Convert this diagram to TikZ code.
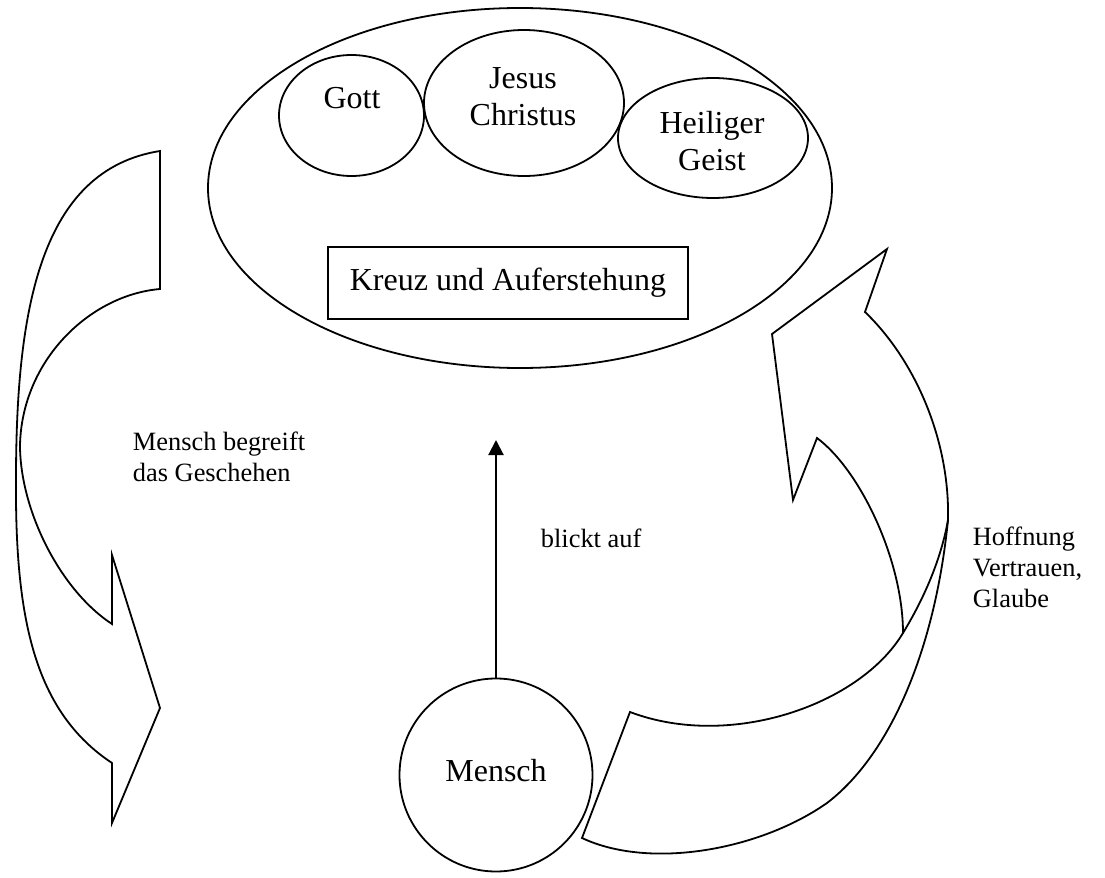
\documentclass[tikz,border=0pt]{standalone}
\usepackage{fontspec}
\setmainfont{Liberation Serif}
\usetikzlibrary{shapes.geometric,arrows.meta}
\begin{document}
\begin{tikzpicture}[x=0.5pt,y=-0.5pt,
  line width=0.9pt,
  bigtxt/.style={font=\fontsize{16}{18.5}\selectfont, align=center, inner sep=0pt},
  smalltxt/.style={font=\fontsize{13.2}{15.5}\selectfont, align=left, inner sep=0pt, anchor=west},
  oval/.style={draw, ellipse, inner sep=0pt},
  band/.style={draw, line join=miter}]
\useasboundingbox (0,0) rectangle (1105,878);

% big ellipse
\node[oval, minimum width=312pt, minimum height=180pt] (god) at (520,188) {};
% trinity
\node[oval, minimum width=72.5pt, minimum height=60.5pt] (gott) at (351.5,115.5) {};
\node[bigtxt] (gottT) at (352,98) {Gott};
\node[oval, minimum width=100pt, minimum height=73pt] (jesus) at (524,103) {};
\node[bigtxt] (jesusT) at (523,97) {Jesus\\Christus};
\node[oval, minimum width=95pt, minimum height=60pt] (geist) at (713,138) {};
\node[bigtxt] (geistT) at (712,141.5) {Heiliger\\Geist};
% cross box
\node[draw, rectangle, inner sep=0pt, minimum width=180pt, minimum height=36pt,
      font=\fontsize{16}{18.5}\selectfont] (kreuz) at (508,283) {Kreuz und Auferstehung};
% Mensch
\node[draw, circle, inner sep=0pt, minimum size=96.5pt] (mensch) at (496,775) {};
\node[bigtxt] (menschT) at (496,771) {Mensch};
% look arrow
\coordinate (blick) at (496,440);
\draw[line width=1pt, -{Triangle[width=7.5pt,length=7.5pt]}] (mensch.north) -- (blick);
\node[smalltxt] (blickT) at (540,538.5) {blickt auf};

% left curved arrow
\draw[band] (160,151) -- (160,289)
  .. controls (90,295) and (22,360) .. (20,445)
  .. controls (20,510) and (60,590) .. (112,624)
  -- (112,555) -- (160,708) -- (112,823) -- (112,763)
  .. controls (35,712) and (15,620) .. (16,480)
  .. controls (16,310) and (40,170) .. (160,151) -- cycle;
\node[smalltxt] (begreift) at (132,457) {Mensch begreift\\das Geschehen};

% right curved arrow
\draw[band] (865,312) -- (887,249) -- (772,334) -- (793,500) -- (817,438)
  .. controls (860,470) and (903,560) .. (903,633)
  .. controls (860,705) and (730,750) .. (630,712)
  -- (582,838)
  .. controls (650,870) and (760,850) .. (827,803)
  .. controls (890,755) and (935,650) .. (948,520)
  .. controls (950,440) and (915,360) .. (865,312) -- cycle;
\draw[band] (903,633) .. controls (920,605) and (940,565) .. (948,520);
\node[smalltxt] (hoffnung) at (972,567.5) {Hoffnung\\Vertrauen,\\Glaube};
\end{tikzpicture}
\end{document}
